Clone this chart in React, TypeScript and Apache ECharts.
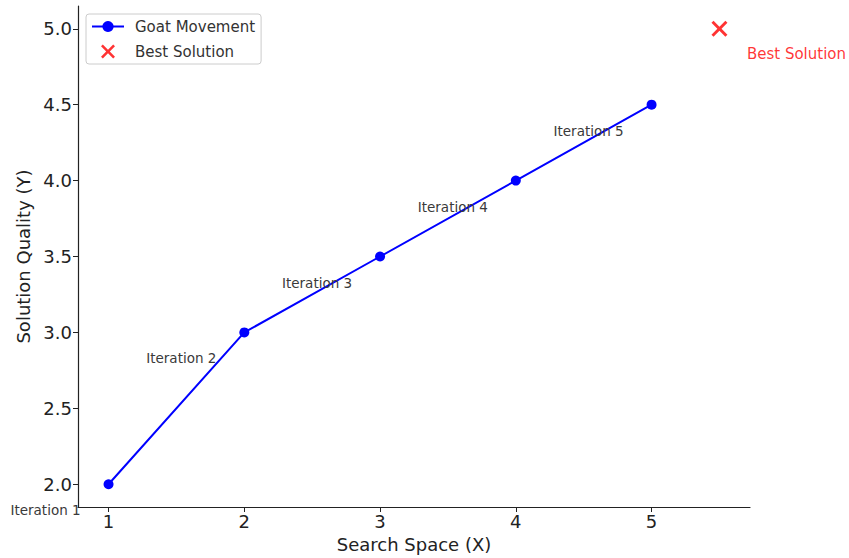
import React, { useEffect, useRef } from "react";
import * as echarts from "echarts";

const xValues = [1, 2, 3, 4, 5];
const yValues = [2.0, 3.0, 3.5, 4.0, 4.5];
const iterationLabels = ["Iteration 1", "Iteration 2", "Iteration 3", "Iteration 4", "Iteration 5"];
const bestSolution = [5.5, 5.0];
const xTicks = [1, 2, 3, 4, 5];
const yTicks = [2.0, 2.5, 3.0, 3.5, 4.0, 4.5, 5.0];

const FONT = "DejaVu Sans";
const X_SYMBOL =
  "path://M0,1.3L1.3,0L5,3.7L8.7,0L10,1.3L6.3,5L10,8.7L8.7,10L5,6.3L1.3,10L0,8.7L3.7,5Z";

export default function App() {
  const ref = useRef<HTMLDivElement>(null);
  useEffect(() => {
    const chart = echarts.init(ref.current!, null, { renderer: "svg" });
    const axisColor = "#222";
    chart.setOption({
      animation: false,
      textStyle: { fontFamily: FONT },
      grid: { left: 78, right: 99, top: 6, bottom: 49 },
      legend: {
        left: 86,
        top: 14,
        orient: "vertical",
        padding: [5, 6, 5, 5],
        itemGap: 10,
        itemWidth: 32,
        itemHeight: 14,
        borderColor: "#cccccc",
        borderWidth: 1,
        borderRadius: 3,
        backgroundColor: "rgba(255,255,255,0.8)",
        textStyle: { fontFamily: FONT, fontSize: 15, color: "#333", padding: [0, 0, 0, 6] },
        data: ["Goat Movement", "Best Solution"],
      },
      xAxis: {
        type: "value",
        min: 0.775,
        max: 5.725,
        name: "Search Space (X)",
        nameLocation: "middle",
        nameGap: 28,
        nameTextStyle: { fontFamily: FONT, fontSize: 18, color: "#222" },
        axisLine: { show: true, lineStyle: { color: axisColor, width: 1.2 } },
        axisTick: { show: true, customValues: xTicks, length: 5, lineStyle: { color: axisColor } },
        axisLabel: {
          customValues: xTicks,
          fontFamily: FONT,
          fontSize: 18,
          color: "#222",
          margin: 5,
          formatter: (v: number) => String(v),
        },
        splitLine: { show: false },
      },
      yAxis: {
        type: "value",
        min: 1.85,
        max: 5.15,
        name: "Solution Quality (Y)",
        nameLocation: "middle",
        nameGap: 43,
        nameRotate: 90,
        nameTextStyle: { fontFamily: FONT, fontSize: 18, color: "#222" },
        axisLine: { show: true, lineStyle: { color: axisColor, width: 1.2 } },
        axisTick: { show: true, customValues: yTicks, length: 5, lineStyle: { color: axisColor } },
        axisLabel: {
          customValues: yTicks,
          fontFamily: FONT,
          fontSize: 18,
          color: "#222",
          margin: 6,
          formatter: (v: number) => v.toFixed(1),
        },
        splitLine: { show: false },
      },
      series: [
        {
          name: "Goat Movement",
          type: "line",
          data: xValues.map((x, i) => [x, yValues[i]]),
          symbol: "circle",
          symbolSize: 10,
          showAllSymbol: true,
          lineStyle: { color: "#0000ff", width: 2 },
          itemStyle: { color: "#0000ff" },
          label: {
            show: true,
            position: "inside",
            offset: [-63, 26],
            formatter: (p: any) => iterationLabels[p.dataIndex],
            fontFamily: FONT,
            fontSize: 13.5,
            color: "#3a3a3a",
          },
          z: 2,
        },
        {
          name: "Best Solution",
          type: "scatter",
          data: [bestSolution],
          symbol: X_SYMBOL,
          symbolSize: 16,
          itemStyle: { color: "#ff0000" },
          label: {
            show: true,
            position: "inside",
            offset: [77, 25],
            formatter: "Best Solution",
            fontFamily: FONT,
            fontSize: 15,
            color: "#ff0000",
          },
          z: 3,
        },
      ],
    });
    return () => chart.dispose();
  }, []);
  return (
    <div
      ref={ref}
      style={{ position: "fixed", left: 0, top: 0, width: 849, height: 558, background: "#fff" }}
    />
  );
}
